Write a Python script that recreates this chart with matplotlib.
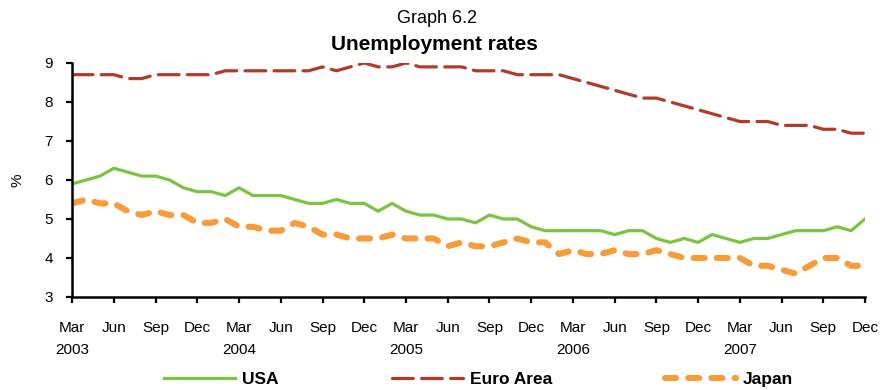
import matplotlib
matplotlib.use("Agg")
import matplotlib.pyplot as plt
from matplotlib.lines import Line2D

plt.rcParams['font.family'] = ['Liberation Sans', 'DejaVu Sans']

# Monthly unemployment rates, Mar 2003 - Dec 2007 (%)
usa = [5.9, 6.0, 6.1, 6.3, 6.2, 6.1, 6.1, 6.0, 5.8, 5.7, 5.7, 5.6,
       5.8, 5.6, 5.6, 5.6, 5.5, 5.4, 5.4, 5.5, 5.4, 5.4, 5.2, 5.4,
       5.2, 5.1, 5.1, 5.0, 5.0, 4.9, 5.1, 5.0, 5.0, 4.8, 4.7, 4.7,
       4.7, 4.7, 4.7, 4.6, 4.7, 4.7, 4.5, 4.4, 4.5, 4.4, 4.6, 4.5,
       4.4, 4.5, 4.5, 4.6, 4.7, 4.7, 4.7, 4.8, 4.7, 5.0]
euro_area = [8.7, 8.7, 8.7, 8.7, 8.6, 8.6, 8.7, 8.7, 8.7, 8.7, 8.7, 8.8,
             8.8, 8.8, 8.8, 8.8, 8.8, 8.8, 8.9, 8.8, 8.9, 9.0, 8.9, 8.9,
             9.0, 8.9, 8.9, 8.9, 8.9, 8.8, 8.8, 8.8, 8.7, 8.7, 8.7, 8.7,
             8.6, 8.5, 8.4, 8.3, 8.2, 8.1, 8.1, 8.0, 7.9, 7.8, 7.7, 7.6,
             7.5, 7.5, 7.5, 7.4, 7.4, 7.4, 7.3, 7.3, 7.2, 7.2]
japan = [5.4, 5.5, 5.4, 5.4, 5.2, 5.1, 5.2, 5.1, 5.1, 4.9, 4.9, 5.0,
         4.8, 4.8, 4.7, 4.7, 4.9, 4.8, 4.6, 4.6, 4.5, 4.5, 4.5, 4.6,
         4.5, 4.5, 4.5, 4.3, 4.4, 4.3, 4.3, 4.4, 4.5, 4.4, 4.4, 4.1,
         4.2, 4.1, 4.1, 4.2, 4.1, 4.1, 4.2, 4.1, 4.0, 4.0, 4.0, 4.0,
         4.0, 3.8, 3.8, 3.7, 3.6, 3.8, 4.0, 4.0, 3.8, 3.8]

quarter_months = ['Mar', 'Jun', 'Sep', 'Dec']
years = ['2003', '2004', '2005', '2006', '2007']

tick_labels = []
for y in years:
    for m in quarter_months:
        tick_labels.append(f"{m}\n{y}" if m == 'Mar' else m)

green = '#7CC243'
red = '#B23A2B'
orange = '#F89C3A'

fig = plt.figure(figsize=(8.8, 3.9), dpi=100)
ax = fig.add_axes([0.082, 0.2385, 0.901, 0.6])

x = range(len(usa))
ax.plot(x, usa, color=green, lw=2.3, solid_joinstyle='round')
ax.plot(x, euro_area, color=red, lw=2.3, dashes=(6.5, 2.6),
        dash_capstyle='round', dash_joinstyle='round')
ax.plot(x, japan, color=orange, lw=4.4, dashes=(1.8, 2.0),
        dash_capstyle='round', dash_joinstyle='round')

ax.set_xlim(0, len(usa) - 1)
ax.set_ylim(3, 9)
ax.set_yticks(range(3, 10))
ax.set_xticks(range(0, len(usa), 3))
ax.set_xticklabels(tick_labels, linespacing=1.75)

for side in ['top', 'right']:
    ax.spines[side].set_visible(False)
for side in ['left', 'bottom']:
    ax.spines[side].set_linewidth(1.8)
    ax.spines[side].set_color('black')

ax.tick_params(axis='x', direction='out', length=4, width=1.6, pad=13, labelsize=11)
ax.tick_params(axis='y', direction='out', length=4, width=1.6, pad=10, labelsize=11)

ax.set_ylabel('%', fontsize=11)
ax.yaxis.set_label_coords(-0.06, 0.5)

fig.text(0.497, 0.952, 'Graph 6.2', ha='center', va='center', fontsize=13)
fig.text(0.494, 0.886, 'Unemployment rates', ha='center', va='center',
         fontsize=15, fontweight='bold')

handles = [
    Line2D([], [], color=green, lw=2.3),
    Line2D([], [], color=red, lw=2.3, dashes=(6.5, 2.6), dash_capstyle='round'),
    Line2D([], [], color=orange, lw=4.4, dashes=(1.8, 2.0), dash_capstyle='round'),
]
fig.legend(handles, ['USA', 'Euro Area', 'Japan'], loc='center',
           bbox_to_anchor=(0.544, 0.026), ncol=3, frameon=False,
           prop={'weight': 'bold', 'size': 12.5}, handlelength=4.1,
           handletextpad=0.4, columnspacing=6.5, borderaxespad=0)

fig.savefig('out.png', dpi=100)
